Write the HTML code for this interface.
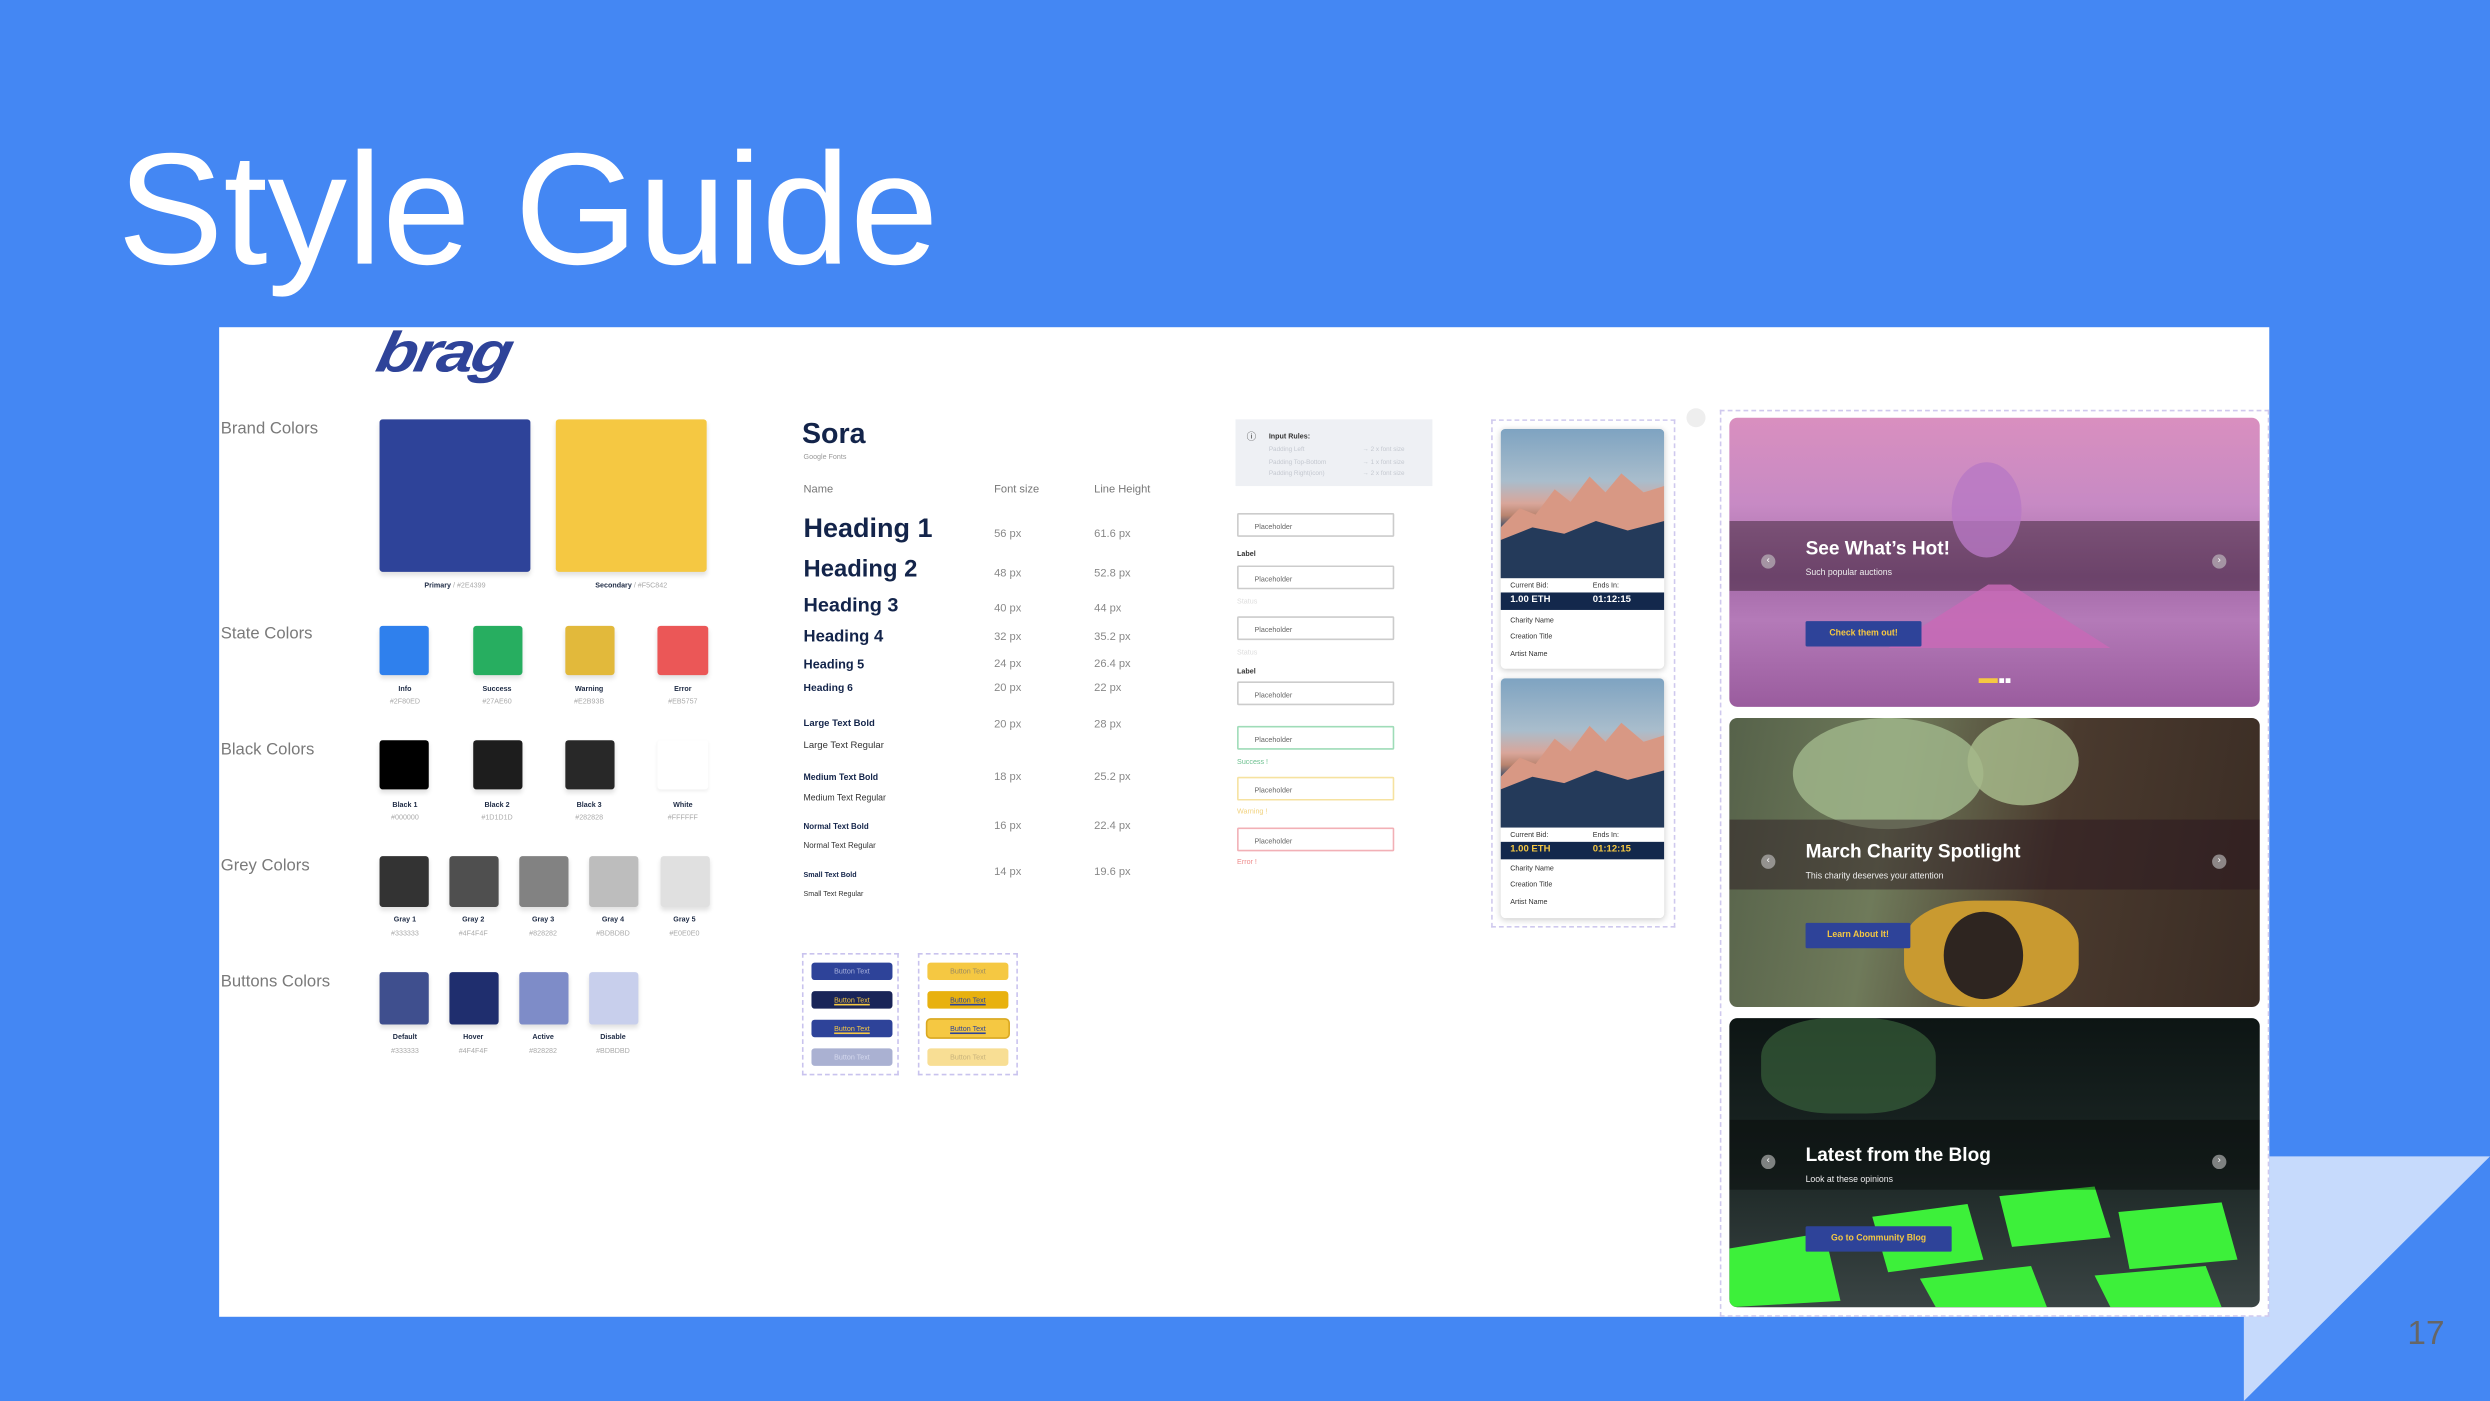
<!DOCTYPE html>
<html><head><meta charset="utf-8">
<style>
html,body{margin:0;padding:0;width:2490px;height:1401px;overflow:hidden;background:#4487F3;}
#s{position:absolute;left:0;top:0;width:1568px;height:882px;transform:scale(1.58801,1.5884);transform-origin:0 0;font-family:"Liberation Sans",sans-serif;}
.a{position:absolute;}
.lbl{position:absolute;left:139px;font-size:10.5px;color:#7a7a7a;}
.sw{position:absolute;border-radius:2px;box-shadow:0 2px 3px rgba(0,0,0,.12);}
.cn{position:absolute;font-size:4.5px;font-weight:bold;color:#1d2a44;text-align:center;width:40px;}
.ch{position:absolute;font-size:4.5px;color:#aaa;text-align:center;width:40px;}
.t{position:absolute;color:#13244a;font-weight:bold;white-space:nowrap;}
.v{position:absolute;color:#888;font-size:7px;}
.inp{position:absolute;left:779px;width:99px;height:15px;border:1px solid #ccc;border-radius:1px;font-size:4.5px;color:#666;line-height:15px;box-sizing:border-box;padding-left:10px;}
.sm{position:absolute;left:779px;font-size:4.5px;}
.btn{position:absolute;width:51px;height:11px;border-radius:2px;font-size:4.5px;line-height:11px;text-align:center;}
.card{position:absolute;left:945px;width:103px;height:151px;background:#fff;border-radius:3px;box-shadow:0 1px 4px rgba(0,0,0,.2);overflow:hidden;}
.img{position:absolute;left:0;top:0;width:103px;height:94px;background:linear-gradient(180deg,#7ea3c1 0%,#a9bdcc 35%,#d9a69a 50%,#b9846f 58%,#3b4f6b 66%,#1f3655 100%);}
.ci{position:absolute;left:6px;font-size:4.5px;color:#333;}
.band{position:absolute;left:0;width:103px;height:11px;background:#13284c;font-size:6px;font-weight:bold;line-height:11px;}
.ban{position:absolute;left:1089px;width:334px;height:182px;border-radius:5px;overflow:hidden;}
.dk{position:absolute;left:0;width:334px;height:44px;background:rgba(40,20,30,.45);}
.bt{position:absolute;left:48px;color:#fff;font-weight:bold;font-size:12px;}
.bs{position:absolute;left:48px;color:#eee;font-size:5.5px;}
.bb{position:absolute;left:48px;height:16px;background:#2E4399;color:#F5C842;font-size:5.5px;font-weight:bold;line-height:16px;text-align:center;border-radius:1px;}
.ar{position:absolute;width:9px;height:9px;border-radius:50%;background:rgba(200,200,200,.6);color:#fff;font-size:6px;line-height:9px;text-align:center;}
</style></head><body>
<div id="s">
<svg class="a" style="left:0;top:0" width="1568" height="882"><polygon points="1429,728 1568,728 1413,882 1413,829 1429,829" fill="#C6DAFC"/></svg>
<div class="a" style="left:74px;top:82px;font-size:100px;color:#fff;line-height:1;">Style Guide</div>
<div class="a" style="left:1516px;top:828px;font-size:21px;color:#666;">17</div>
<div class="a" style="left:138px;top:206px;width:1291px;height:623px;background:#fff;"></div>

<div class="a" style="left:238px;top:198px;font-size:42px;font-weight:900;font-style:italic;color:#2E4399;letter-spacing:-2px;transform:skewX(-12deg) scaleY(.85);">brag</div>

<div class="lbl" style="top:264px">Brand Colors</div>
<div class="lbl" style="top:393px">State Colors</div>
<div class="lbl" style="top:466px">Black Colors</div>
<div class="lbl" style="top:539px">Grey Colors</div>
<div class="lbl" style="top:612px">Buttons Colors</div>

<div class="sw" style="left:239px;top:264px;width:95px;height:96px;background:#2E4399"></div>
<div class="sw" style="left:350px;top:264px;width:95px;height:96px;background:#F5C842"></div>
<div class="a" style="left:239px;top:366px;width:95px;text-align:center;font-size:4.5px;color:#1d2a44"><b>Primary</b> <span style="color:#aaa">/ #2E4399</span></div>
<div class="a" style="left:350px;top:366px;width:95px;text-align:center;font-size:4.5px;color:#1d2a44"><b>Secondary</b> <span style="color:#aaa">/ #F5C842</span></div>

<div class="sw" style="left:239px;top:394px;width:31px;height:31px;background:#2F80ED"></div>
<div class="sw" style="left:298px;top:394px;width:31px;height:31px;background:#27AE60"></div>
<div class="sw" style="left:356px;top:394px;width:31px;height:31px;background:#E2B93B"></div>
<div class="sw" style="left:414px;top:394px;width:32px;height:31px;background:#EB5757"></div>
<div class="cn" style="left:235px;top:431px">Info</div><div class="ch" style="left:235px;top:439px">#2F80ED</div>
<div class="cn" style="left:293px;top:431px">Success</div><div class="ch" style="left:293px;top:439px">#27AE60</div>
<div class="cn" style="left:351px;top:431px">Warning</div><div class="ch" style="left:351px;top:439px">#E2B93B</div>
<div class="cn" style="left:410px;top:431px">Error</div><div class="ch" style="left:410px;top:439px">#EB5757</div>

<div class="sw" style="left:239px;top:466px;width:31px;height:31px;background:#000"></div>
<div class="sw" style="left:298px;top:466px;width:31px;height:31px;background:#1D1D1D"></div>
<div class="sw" style="left:356px;top:466px;width:31px;height:31px;background:#282828"></div>
<div class="sw" style="left:414px;top:466px;width:32px;height:31px;background:#fff;box-shadow:0 1px 2px rgba(0,0,0,.06)"></div>
<div class="cn" style="left:235px;top:504px">Black 1</div><div class="ch" style="left:235px;top:512px">#000000</div>
<div class="cn" style="left:293px;top:504px">Black 2</div><div class="ch" style="left:293px;top:512px">#1D1D1D</div>
<div class="cn" style="left:351px;top:504px">Black 3</div><div class="ch" style="left:351px;top:512px">#282828</div>
<div class="cn" style="left:410px;top:504px">White</div><div class="ch" style="left:410px;top:512px">#FFFFFF</div>

<div class="sw" style="left:239px;top:539px;width:31px;height:32px;background:#333"></div>
<div class="sw" style="left:283px;top:539px;width:31px;height:32px;background:#4F4F4F"></div>
<div class="sw" style="left:327px;top:539px;width:31px;height:32px;background:#828282"></div>
<div class="sw" style="left:371px;top:539px;width:31px;height:32px;background:#BDBDBD"></div>
<div class="sw" style="left:416px;top:539px;width:31px;height:32px;background:#E0E0E0"></div>
<div class="cn" style="left:235px;top:576px">Gray 1</div><div class="ch" style="left:235px;top:585px">#333333</div>
<div class="cn" style="left:278px;top:576px">Gray 2</div><div class="ch" style="left:278px;top:585px">#4F4F4F</div>
<div class="cn" style="left:322px;top:576px">Gray 3</div><div class="ch" style="left:322px;top:585px">#828282</div>
<div class="cn" style="left:366px;top:576px">Gray 4</div><div class="ch" style="left:366px;top:585px">#BDBDBD</div>
<div class="cn" style="left:411px;top:576px">Gray 5</div><div class="ch" style="left:411px;top:585px">#E0E0E0</div>

<div class="sw" style="left:239px;top:612px;width:31px;height:33px;background:#3F4F8E"></div>
<div class="sw" style="left:283px;top:612px;width:31px;height:33px;background:#1F2E6E"></div>
<div class="sw" style="left:327px;top:612px;width:31px;height:33px;background:#7E8CC8"></div>
<div class="sw" style="left:371px;top:612px;width:31px;height:33px;background:#C8CFEC"></div>
<div class="cn" style="left:235px;top:650px">Default</div><div class="ch" style="left:235px;top:659px">#333333</div>
<div class="cn" style="left:278px;top:650px">Hover</div><div class="ch" style="left:278px;top:659px">#4F4F4F</div>
<div class="cn" style="left:322px;top:650px">Active</div><div class="ch" style="left:322px;top:659px">#828282</div>
<div class="cn" style="left:366px;top:650px">Disable</div><div class="ch" style="left:366px;top:659px">#BDBDBD</div>

<div class="t" style="left:505px;top:263px;font-size:18px;">Sora</div>
<div class="a" style="left:506px;top:285px;font-size:4.5px;color:#999">Google Fonts</div>
<div class="a" style="left:506px;top:305px;font-size:7px;color:#777">Name</div>
<div class="a" style="left:626px;top:305px;font-size:7px;color:#777">Font size</div>
<div class="a" style="left:689px;top:305px;font-size:7px;color:#777">Line Height</div>
<div class="t" style="left:506px;top:323px;font-size:17px">Heading 1</div>
<div class="t" style="left:506px;top:350px;font-size:15px">Heading 2</div>
<div class="t" style="left:506px;top:374px;font-size:12.5px">Heading 3</div>
<div class="t" style="left:506px;top:395px;font-size:10.5px">Heading 4</div>
<div class="t" style="left:506px;top:414px;font-size:8px">Heading 5</div>
<div class="t" style="left:506px;top:430px;font-size:6.5px">Heading 6</div>
<div class="t" style="left:506px;top:453px;font-size:6px">Large Text Bold</div>
<div class="t" style="left:506px;top:467px;font-size:6px;font-weight:normal;color:#333">Large Text Regular</div>
<div class="t" style="left:506px;top:487px;font-size:5.5px">Medium Text Bold</div>
<div class="t" style="left:506px;top:500px;font-size:5.5px;font-weight:normal;color:#333">Medium Text Regular</div>
<div class="t" style="left:506px;top:518px;font-size:5px">Normal Text Bold</div>
<div class="t" style="left:506px;top:530px;font-size:5px;font-weight:normal;color:#333">Normal Text Regular</div>
<div class="t" style="left:506px;top:548px;font-size:4.5px">Small Text Bold</div>
<div class="t" style="left:506px;top:560px;font-size:4.5px;font-weight:normal;color:#333">Small Text Regular</div>
<div class="v" style="left:626px;top:333px">56 px</div><div class="v" style="left:689px;top:333px">61.6 px</div>
<div class="v" style="left:626px;top:358px">48 px</div><div class="v" style="left:689px;top:358px">52.8 px</div>
<div class="v" style="left:626px;top:380px">40 px</div><div class="v" style="left:689px;top:380px">44 px</div>
<div class="v" style="left:626px;top:398px">32 px</div><div class="v" style="left:689px;top:398px">35.2 px</div>
<div class="v" style="left:626px;top:415px">24 px</div><div class="v" style="left:689px;top:415px">26.4 px</div>
<div class="v" style="left:626px;top:430px">20 px</div><div class="v" style="left:689px;top:430px">22 px</div>
<div class="v" style="left:626px;top:453px">20 px</div><div class="v" style="left:689px;top:453px">28 px</div>
<div class="v" style="left:626px;top:486px">18 px</div><div class="v" style="left:689px;top:486px">25.2 px</div>
<div class="v" style="left:626px;top:517px">16 px</div><div class="v" style="left:689px;top:517px">22.4 px</div>
<div class="v" style="left:626px;top:546px">14 px</div><div class="v" style="left:689px;top:546px">19.6 px</div>

<div class="a" style="left:505px;top:600px;width:61px;height:77px;border:1px dashed #c9c3ee;box-sizing:border-box"></div>
<div class="a" style="left:578px;top:600px;width:63px;height:77px;border:1px dashed #c9c3ee;box-sizing:border-box"></div>
<div class="btn" style="left:511px;top:606px;background:#2E4399;color:#aab3dd">Button Text</div>
<div class="btn" style="left:511px;top:624px;background:#1a2558;color:#F5C842;text-decoration:underline">Button Text</div>
<div class="btn" style="left:511px;top:642px;background:#2E4399;color:#F5C842;text-decoration:underline">Button Text</div>
<div class="btn" style="left:511px;top:660px;background:#aab1d2;color:#d5d9ee">Button Text</div>
<div class="btn" style="left:584px;top:606px;background:#F5C842;color:#9a8a60">Button Text</div>
<div class="btn" style="left:584px;top:624px;background:#E8B10F;color:#2E4399;text-decoration:underline">Button Text</div>
<div class="btn" style="left:584px;top:642px;background:#F5C842;color:#2E4399;text-decoration:underline;box-shadow:0 0 0 1px #d9a820">Button Text</div>
<div class="btn" style="left:584px;top:660px;background:#F8DE94;color:#c7b27c">Button Text</div>

<div class="a" style="left:778px;top:264px;width:124px;height:42px;background:#eef0f4"></div>
<div class="a" style="left:785px;top:270px;font-size:6px;color:#333">ⓘ</div>
<div class="a" style="left:799px;top:272px;font-size:4.5px;color:#333;font-weight:bold">Input Rules:</div>
<div class="a" style="left:799px;top:279px;font-size:4px;color:#c4c8d0;line-height:7.5px">Padding Left<br>Padding Top-Bottom<br>Padding Right(icon)</div>
<div class="a" style="left:858px;top:279px;font-size:4px;color:#c4c8d0;line-height:7.5px">→ 2 x font size<br>→ 1 x font size<br>→ 2 x font size</div>
<div class="inp" style="top:323px">Placeholder</div>
<div class="sm" style="top:346px;color:#333;font-weight:bold">Label</div>
<div class="inp" style="top:356px">Placeholder</div>
<div class="sm" style="top:376px;color:#ddd">Status</div>
<div class="inp" style="top:388px">Placeholder</div>
<div class="sm" style="top:408px;color:#ddd">Status</div>
<div class="sm" style="top:420px;color:#333;font-weight:bold">Label</div>
<div class="inp" style="top:429px">Placeholder</div>
<div class="inp" style="top:457px;border-color:#9fdcb8">Placeholder</div>
<div class="sm" style="top:477px;color:#6cc08f">Success !</div>
<div class="inp" style="top:489px;border-color:#f6e2a0">Placeholder</div>
<div class="sm" style="top:508px;color:#f1d27e">Warning !</div>
<div class="inp" style="top:521px;border-color:#f2b0b6">Placeholder</div>
<div class="sm" style="top:540px;color:#ee8b8b">Error !</div>

<div class="a" style="left:939px;top:264px;width:116px;height:320px;border:1px dashed #cfc9ee;box-sizing:border-box"></div>
<div class="a" style="left:1062px;top:257px;width:12px;height:12px;border-radius:50%;background:#eee"></div>
<div class="card" style="top:270px">
 <div class="img"><svg width="103" height="94"><polygon points="0,62 12,50 22,54 34,38 44,46 56,30 66,40 76,28 90,40 103,36 103,70 0,72" fill="#d89884"/><polygon points="0,70 20,62 40,66 60,58 80,64 103,58 103,94 0,94" fill="#243a5a"/></svg></div>
 <div class="ci" style="top:96px">Current Bid:</div><div class="ci" style="top:96px;left:58px">Ends In:</div>
 <div class="band" style="top:103px;color:#fff"><span style="margin-left:6px">1.00 ETH</span><span style="position:absolute;left:58px">01:12:15</span></div>
 <div class="ci" style="top:118px">Charity Name</div>
 <div class="ci" style="top:128px">Creation Title</div>
 <div class="ci" style="top:139px">Artist Name</div>
</div>
<div class="card" style="top:427px">
 <div class="img"><svg width="103" height="94"><polygon points="0,62 12,50 22,54 34,38 44,46 56,30 66,40 76,28 90,40 103,36 103,70 0,72" fill="#d89884"/><polygon points="0,70 20,62 40,66 60,58 80,64 103,58 103,94 0,94" fill="#243a5a"/></svg></div>
 <div class="ci" style="top:96px">Current Bid:</div><div class="ci" style="top:96px;left:58px">Ends In:</div>
 <div class="band" style="top:103px;color:#F5C842"><span style="margin-left:6px">1.00 ETH</span><span style="position:absolute;left:58px">01:12:15</span></div>
 <div class="ci" style="top:117px">Charity Name</div>
 <div class="ci" style="top:127px">Creation Title</div>
 <div class="ci" style="top:138px">Artist Name</div>
</div>

<div class="a" style="left:1083px;top:258px;width:346px;height:571px;border:1px dashed #cfc9ee;box-sizing:border-box"></div>
<div class="ban" style="top:263px;background:linear-gradient(180deg,#d98fbf 0%,#c78ac4 30%,#a46aa8 55%,#b47ab8 70%,#9a5c9e 100%)">
 <div class="dk" style="top:65px"></div>
 <div class="a" style="left:140px;top:28px;width:44px;height:60px;border-radius:50%;background:#b878c4;opacity:.8"></div>
 <div class="a" style="left:100px;top:105px;width:140px;height:40px;background:#c86ab6;clip-path:polygon(0 100%,45% 0,55% 0,100% 100%);opacity:.85"></div>
 <div class="bt" style="top:75px">See What’s Hot!</div>
 <div class="bs" style="top:95px">Such popular auctions</div>
 <div class="bb" style="top:128px;width:73px">Check them out!</div>
 <div class="ar" style="left:20px;top:86px">‹</div><div class="ar" style="left:304px;top:86px">›</div>
 <div class="a" style="left:157px;top:164px;width:12px;height:3px;background:#F5C842"></div>
 <div class="a" style="left:170px;top:164px;width:3px;height:3px;background:#fff"></div>
 <div class="a" style="left:174px;top:164px;width:3px;height:3px;background:#fff"></div>
</div>
<div class="ban" style="top:452px;background:linear-gradient(100deg,#56624a 0%,#6f7a5a 30%,#4a3a2e 60%,#3a2c24 100%)">
 <div class="a" style="left:40px;top:0;width:120px;height:70px;border-radius:50%;background:#9fb58a;opacity:.85"></div>
 <div class="a" style="left:150px;top:0;width:70px;height:55px;border-radius:50%;background:#a6b98a;opacity:.85"></div>
 <div class="dk" style="top:64px"></div>
 <div class="a" style="left:110px;top:115px;width:110px;height:67px;border-radius:40%;background:#c99a30"></div>
 <div class="a" style="left:135px;top:122px;width:50px;height:55px;border-radius:50%;background:#2e2520"></div>
 <div class="bt" style="top:77px">March Charity Spotlight</div>
 <div class="bs" style="top:97px">This charity deserves your attention</div>
 <div class="bb" style="top:129px;width:66px">Learn About It!</div>
 <div class="ar" style="left:20px;top:86px">‹</div><div class="ar" style="left:304px;top:86px">›</div>
</div>
<div class="ban" style="top:641px;background:linear-gradient(180deg,#0d1514 0%,#1b2624 50%,#3a4444 100%)">
 <div class="a" style="left:20px;top:0;width:110px;height:60px;background:#3d6a40;border-radius:40%;opacity:.6"></div>
 <svg class="a" style="left:0;top:0" width="334" height="182"><g fill="#3df03a"><polygon points="90,125 150,117 160,152 100,160"/><polygon points="170,112 230,106 240,138 178,144"/><polygon points="245,122 310,116 320,152 252,158"/><polygon points="120,164 190,156 200,182 130,182"/><polygon points="230,162 300,156 310,182 240,182"/><polygon points="0,145 60,135 70,178 0,182"/></g></svg>
 <div class="dk" style="top:64px;background:rgba(0,0,0,.35)"></div>
 <div class="bt" style="top:79px">Latest from the Blog</div>
 <div class="bs" style="top:99px">Look at these opinions</div>
 <div class="bb" style="top:131px;width:92px">Go to Community Blog</div>
 <div class="ar" style="left:20px;top:86px">‹</div><div class="ar" style="left:304px;top:86px">›</div>
</div>
</div>
</body></html>
